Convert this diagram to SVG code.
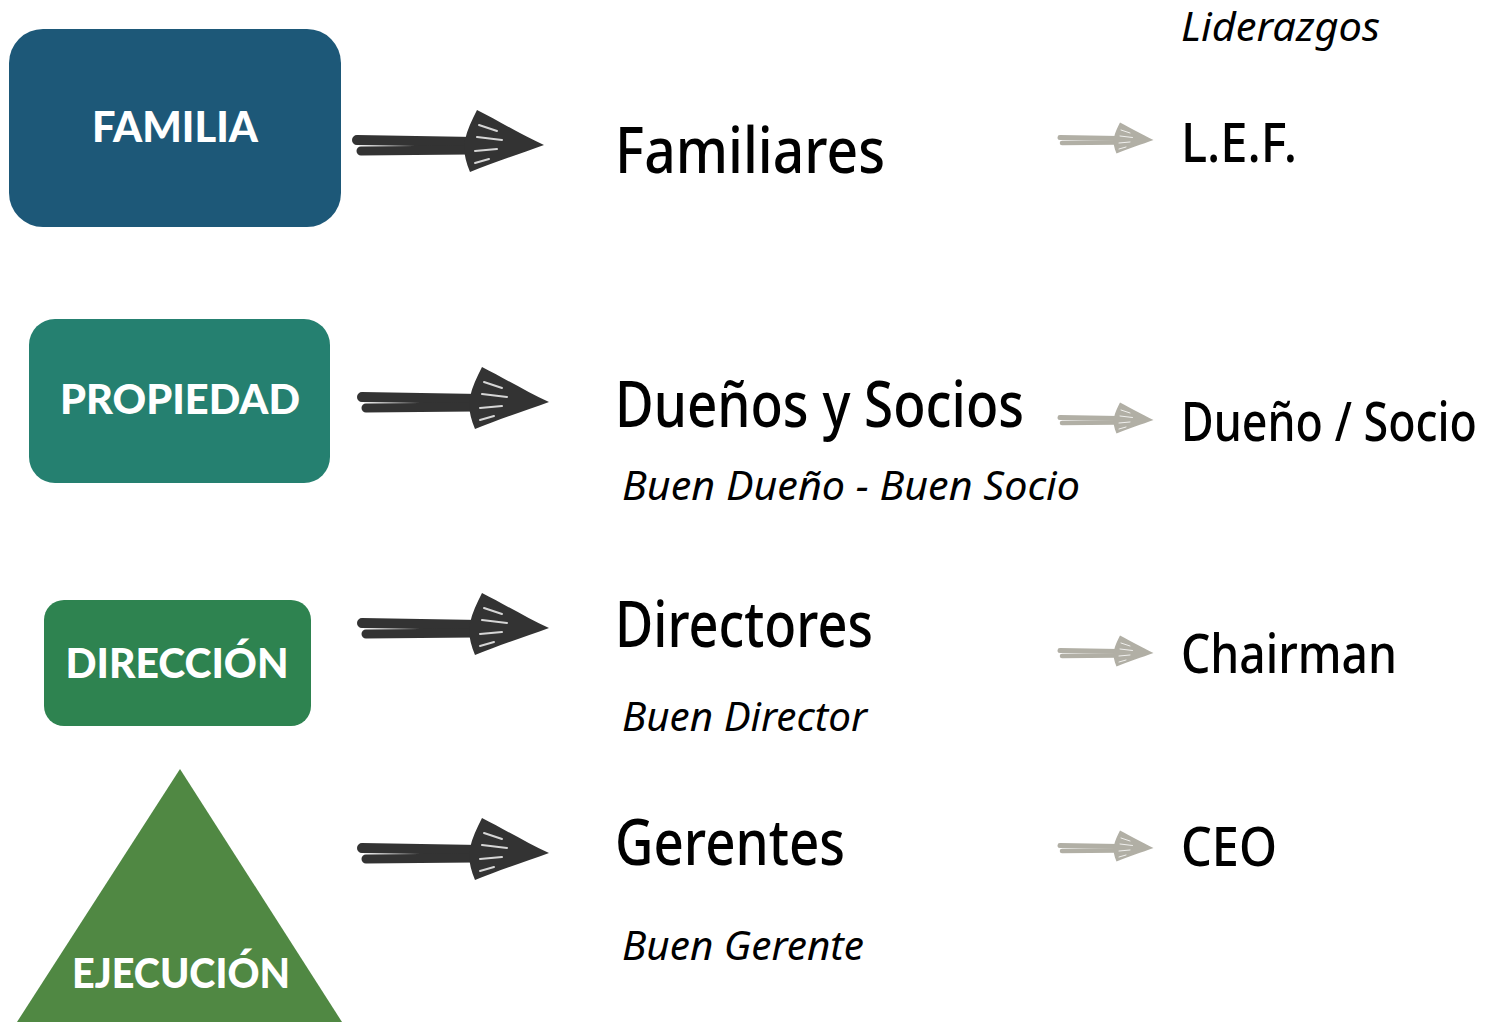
<svg xmlns="http://www.w3.org/2000/svg" xmlns:xlink="http://www.w3.org/1999/xlink" width="1499" height="1022" viewBox="0 0 1499 1022">
<style>
.lbl{font-family:Lato,"Open Sans","Liberation Sans",sans-serif;font-weight:900;fill:#ffffff;text-anchor:middle;}
.ttl{font-family:"Noto Sans","Open Sans","Liberation Sans",sans-serif;font-weight:500;fill:#000000;}
.sub{font-family:"Noto Sans","Open Sans","Liberation Sans",sans-serif;font-style:italic;fill:#000000;}
</style>
<defs>
<g id="arr">
<path d="M0,-5 L118,-3" stroke="currentColor" stroke-width="10" stroke-linecap="round" fill="none"/>
<path d="M4,6 L112,5" stroke="currentColor" stroke-width="9" stroke-linecap="round" fill="none"/>
<path d="M120,-35 C140,-25 165,-10 187,0 C165,8 135,18 113,27 C108,15 106,5 108,-5 C110,-15 115,-25 120,-35 Z" fill="currentColor"/>
<path d="M122,-20 L140,-14 M120,-8 L145,-5 M118,6 L140,4 M118,18 L132,14" stroke="#ffffff" stroke-width="2" stroke-linecap="round" fill="none" opacity="0.8"/>
</g>
</defs>
<rect width="1499" height="1022" fill="#ffffff"/>
<g id="node-familia">
<rect x="9" y="29" width="332" height="198" rx="34" fill="#1d5878"/>
<text class="lbl" x="175" y="142" font-size="42" textLength="166" lengthAdjust="spacingAndGlyphs">FAMILIA</text>
</g>
<g id="node-propiedad">
<rect x="29" y="319" width="301" height="164" rx="26" fill="#258070"/>
<text class="lbl" x="180" y="414" font-size="41" textLength="240" lengthAdjust="spacingAndGlyphs">PROPIEDAD</text>
</g>
<g id="node-direccion">
<rect x="44" y="600" width="267" height="126" rx="20" fill="#2e8350"/>
<text class="lbl" x="177" y="678" font-size="41" textLength="223" lengthAdjust="spacingAndGlyphs">DIRECCIÓN</text>
</g>
<g id="node-ejecucion">
<polygon points="180,769 342,1022 17,1022" fill="#508843"/>
<text class="lbl" x="181" y="988" font-size="41" textLength="218" lengthAdjust="spacingAndGlyphs">EJECUCIÓN</text>
</g>
<g id="connectors">
<use xlink:href="#arr" transform="translate(357,145)" color="#333333"/>
<use xlink:href="#arr" transform="translate(362,402)" color="#333333"/>
<use xlink:href="#arr" transform="translate(362,628)" color="#333333"/>
<use xlink:href="#arr" transform="translate(362,853)" color="#333333"/>
<use xlink:href="#arr" transform="translate(1060,140) scale(0.5)" color="#b1afa5"/>
<use xlink:href="#arr" transform="translate(1060,420) scale(0.5)" color="#b1afa5"/>
<use xlink:href="#arr" transform="translate(1060,653) scale(0.5)" color="#b1afa5"/>
<use xlink:href="#arr" transform="translate(1060,848) scale(0.5)" color="#b1afa5"/>
</g>
<g id="texts">
<text class="sub" x="1181" y="41" font-size="40" textLength="199" lengthAdjust="spacingAndGlyphs">Liderazgos</text>
<text class="ttl" x="1181" y="162" font-size="54" textLength="116" lengthAdjust="spacingAndGlyphs">L.E.F.</text>
<text class="ttl" x="615" y="173" font-size="63" textLength="270" lengthAdjust="spacingAndGlyphs">Familiares</text>
<text class="ttl" x="615" y="427" font-size="63" textLength="409" lengthAdjust="spacingAndGlyphs">Dueños y Socios</text>
<text class="sub" x="622" y="500" font-size="40" textLength="458" lengthAdjust="spacingAndGlyphs">Buen Dueño - Buen Socio</text>
<text class="ttl" x="1181" y="441" font-size="54" textLength="296" lengthAdjust="spacingAndGlyphs">Dueño / Socio</text>
<text class="ttl" x="615" y="647" font-size="63" textLength="258" lengthAdjust="spacingAndGlyphs">Directores</text>
<text class="sub" x="622" y="731" font-size="40" textLength="245" lengthAdjust="spacingAndGlyphs">Buen Director</text>
<text class="ttl" x="1181" y="673" font-size="54" textLength="216" lengthAdjust="spacingAndGlyphs">Chairman</text>
<text class="ttl" x="615" y="865" font-size="63" textLength="230" lengthAdjust="spacingAndGlyphs">Gerentes</text>
<text class="sub" x="622" y="960" font-size="40" textLength="242" lengthAdjust="spacingAndGlyphs">Buen Gerente</text>
<text class="ttl" x="1181" y="866" font-size="54" textLength="96" lengthAdjust="spacingAndGlyphs">CEO</text>
</g>
</svg>
